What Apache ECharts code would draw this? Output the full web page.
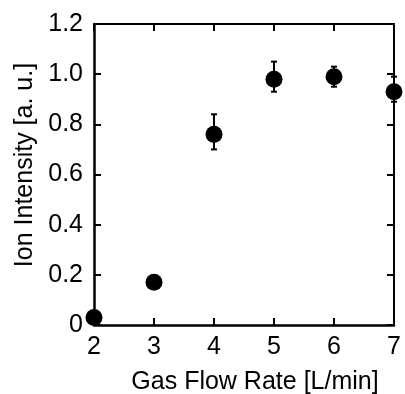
<!DOCTYPE html>
<html>
<head>
<meta charset="utf-8">
<script src="https://cdn.jsdelivr.net/npm/echarts@6/dist/echarts.min.js"></script>
<style>
  html, body { margin: 0; padding: 0; background: #fff; }
  #chart { width: 405px; height: 394px; }
</style>
</head>
<body>
<div id="chart"></div>
<script>
const flowRate = [2, 3, 4, 5, 6, 7];
const intensity = [0.03, 0.17, 0.76, 0.98, 0.99, 0.93];
const errLow = [0.03, 0.17, 0.70, 0.93, 0.95, 0.89];
const errHigh = [0.03, 0.17, 0.84, 1.05, 1.03, 0.99];

const font = 'Liberation Sans, Arial, sans-serif';

const chart = echarts.init(document.getElementById('chart'));

const tickIn = { show: true, inside: true, length: 7, lineStyle: { color: '#000', width: 2 } };

chart.setOption({
  backgroundColor: '#fff',
  animation: false,
  grid: { left: 94, top: 24, width: 300, height: 301, containLabel: false, outerBoundsMode: 'none' },
  xAxis: [
    {
      type: 'value', min: 2, max: 7, interval: 1, position: 'bottom',
      name: 'Gas Flow Rate [L/min]', nameLocation: 'middle', nameGap: 45,
      nameTextStyle: { fontFamily: font, fontSize: 25, color: '#000', padding: [0, 0, 0, 22] },
      axisLine: { show: true, onZero: false, lineStyle: { color: '#000', width: 2.5 } },
      axisTick: tickIn,
      axisLabel: { fontFamily: font, fontSize: 25, color: '#000', margin: 10 },
      splitLine: { show: false }
    },
    {
      type: 'value', min: 2, max: 7, interval: 1, position: 'top',
      axisLine: { show: true, onZero: false, lineStyle: { color: '#000', width: 2 } },
      axisTick: tickIn,
      axisLabel: { show: false },
      splitLine: { show: false }
    }
  ],
  yAxis: [
    {
      type: 'value', min: 0, max: 1.2, interval: 0.2, position: 'left',
      name: 'Ion Intensity [a. u.]', nameLocation: 'middle', nameGap: 53,
      nameTextStyle: { fontFamily: font, fontSize: 25, color: '#000', padding: [0, 0, 0, 19] },
      axisLine: { show: true, onZero: false, lineStyle: { color: '#000', width: 2.5 } },
      axisTick: tickIn,
      axisLabel: {
        fontFamily: font, fontSize: 25, color: '#000', margin: 11,
        formatter: v => (v === 0 ? '0' : v.toFixed(1))
      },
      splitLine: { show: false }
    },
    {
      type: 'value', min: 0, max: 1.2, interval: 0.2, position: 'right',
      axisLine: { show: true, onZero: false, lineStyle: { color: '#000', width: 2 } },
      axisTick: tickIn,
      axisLabel: { show: false },
      splitLine: { show: false }
    }
  ],
  series: [
    {
      type: 'custom',
      clip: false,
      data: flowRate.map((x, i) => [x, errLow[i], errHigh[i]]),
      renderItem: (params, api) => {
        const lo = api.coord([api.value(0), api.value(1)]);
        const hi = api.coord([api.value(0), api.value(2)]);
        const cap = 3;
        const style = { stroke: '#000', lineWidth: 2 };
        return {
          type: 'group',
          children: [
            { type: 'line', shape: { x1: lo[0], y1: lo[1], x2: hi[0], y2: hi[1] }, style },
            { type: 'line', shape: { x1: lo[0] - cap, y1: lo[1], x2: lo[0] + cap, y2: lo[1] }, style },
            { type: 'line', shape: { x1: hi[0] - cap, y1: hi[1], x2: hi[0] + cap, y2: hi[1] }, style }
          ]
        };
      },
      z: 2
    },
    {
      type: 'scatter',
      clip: false,
      symbol: 'circle',
      symbolSize: 17,
      itemStyle: { color: '#000', opacity: 1 },
      data: flowRate.map((x, i) => [x, intensity[i]]),
      z: 3
    }
  ]
});
</script>
</body>
</html>
